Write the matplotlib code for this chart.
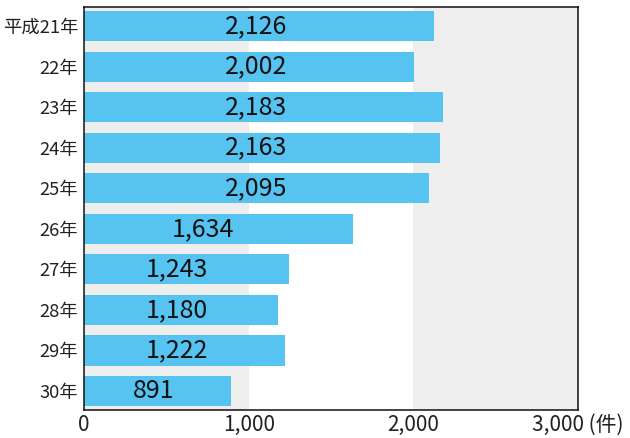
import matplotlib.pyplot as plt

plt.rcParams['font.family'] = ['Noto Sans CJK JP', 'DejaVu Sans']

years = ["平成21年", "22年", "23年", "24年", "25年", "26年", "27年", "28年", "29年", "30年"]
counts = [2126, 2002, 2183, 2163, 2095, 1634, 1243, 1180, 1222, 891]
x_ticks = [0, 1000, 2000, 3000]
x_tick_labels = ["0", "1,000", "2,000", "3,000 (件)"]

# where the value labels sit (data units), they are not centred on the bars
label_x = [1044, 1044, 1044, 1044, 1044, 720, 565, 565, 565, 422]

fig = plt.figure(figsize=(6.3, 4.38), dpi=100)
ax = fig.add_axes([0.1333, 0.0639, 0.7842, 0.9201])

# grey bands behind the bars
ax.axvspan(0, 1000, color="#eeeeee", zorder=0, lw=0)
ax.axvspan(2000, 3000, color="#eeeeee", zorder=0, lw=0)

pos = range(len(years))
ax.barh(pos, counts, height=0.745, color="#56c3f1", zorder=2)

for i, v in enumerate(counts):
    ax.text(label_x[i], i, f"{v:,}", ha="center", va="center",
            fontsize=18, color="#111111", zorder=3)

ax.set_xlim(0, 3000)
ax.set_ylim(9.47, -0.47)
ax.set_yticks(list(pos))
ax.set_yticklabels(years, fontsize=13.2, color="#222222")
ax.set_xticks(x_ticks)
ax.set_xticklabels(x_tick_labels, fontsize=15, color="#222222")
ax.tick_params(axis="both", length=0)
ax.tick_params(axis="y", pad=4)
ax.tick_params(axis="x", pad=3)

for s in ax.spines.values():
    s.set_linewidth(1.1)
    s.set_color("#111111")
    s.set_zorder(4)

fig.savefig("out.png", dpi=100)
